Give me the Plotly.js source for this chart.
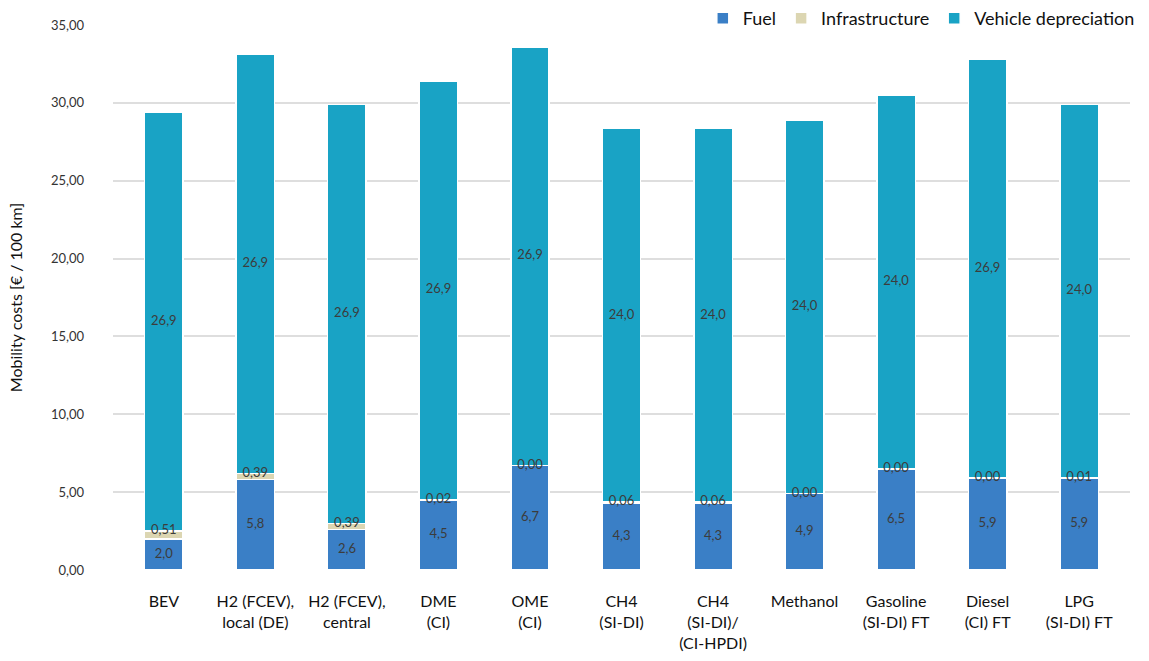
<!DOCTYPE html>
<html>
<head>
<meta charset="utf-8">
<script src="https://cdn.plot.ly/plotly-3.0.1.min.js"></script>
<style>
  html, body { margin: 0; padding: 0; background: #ffffff; }
  #chart { width: 1149px; height: 661px; }
</style>
</head>
<body>
<div id="chart"></div>
<script>
const categories = [
  'BEV',
  'H2 (FCEV),<br>local (DE)',
  'H2 (FCEV),<br>central',
  'DME<br>(CI)',
  'OME<br>(CI)',
  'CH4<br>(SI-DI)',
  'CH4<br>(SI-DI)/<br>(CI-HPDI)',
  'Methanol',
  'Gasoline<br>(SI-DI) FT',
  'Diesel<br>(CI) FT',
  'LPG<br>(SI-DI) FT'
];
const fuel = [2.0, 5.8, 2.6, 4.5, 6.7, 4.3, 4.3, 4.9, 6.5, 5.9, 5.9];
const infrastructure = [0.51, 0.39, 0.39, 0.02, 0.00, 0.06, 0.06, 0.00, 0.00, 0.00, 0.01];
const vehicleDepreciation = [26.9, 26.9, 26.9, 26.9, 26.9, 24.0, 24.0, 24.0, 24.0, 26.9, 24.0];
const yTickValues = [0, 5, 10, 15, 20, 25, 30, 35];

const FONT = 'Lato, "Open Sans", sans-serif';
const fmt = (v, d) => v.toFixed(d).replace('.', ',');

const barLine = { color: '#ffffff', width: 1.5 };
const labelFont = { family: FONT, size: 13, color: '#3c3c3c' };

const traces = [
  {
    type: 'bar', name: 'Fuel', x: categories, y: fuel,
    marker: { color: '#3a7fc6', line: barLine },
    hoverinfo: 'y'
  },
  {
    type: 'bar', name: 'Infrastructure', x: categories, y: infrastructure,
    marker: { color: '#dcd6b2', line: barLine },
    hoverinfo: 'y'
  },
  {
    type: 'bar', name: 'Vehicle depreciation', x: categories, y: vehicleDepreciation,
    marker: { color: '#19a3c5', line: barLine },
    hoverinfo: 'y'
  },
  // value labels
  {
    type: 'scatter', mode: 'text', showlegend: false, hoverinfo: 'skip',
    x: categories,
    y: fuel.map(v => v / 2),
    text: fuel.map(v => fmt(v, 1)),
    textfont: labelFont
  },
  {
    type: 'scatter', mode: 'text', showlegend: false, hoverinfo: 'skip',
    x: categories,
    y: fuel.map((v, i) => v + infrastructure[i]),
    text: infrastructure.map(v => fmt(v, 2)),
    textfont: labelFont
  },
  {
    type: 'scatter', mode: 'text', showlegend: false, hoverinfo: 'skip',
    x: categories,
    y: vehicleDepreciation.map((v, i) => fuel[i] + infrastructure[i] + v / 2),
    text: vehicleDepreciation.map(v => fmt(v, 1)),
    textfont: labelFont
  }
];

const layout = {
  width: 1149, height: 661,
  paper_bgcolor: '#ffffff', plot_bgcolor: '#ffffff',
  margin: { l: 113, r: 19, t: 25, b: 91, autoexpand: false },
  barmode: 'stack',
  bargap: 0.58,
  separators: ',.',
  font: { family: FONT, color: '#222222' },
  xaxis: {
    type: 'category',
    showgrid: false, zeroline: false, showline: false,
    ticks: '',
    ticklabelstandoff: 20,
    automargin: false,
    tickfont: { family: FONT, size: 16, color: '#111111' }
  },
  yaxis: {
    range: [0, 35],
    tickvals: yTickValues,
    tickformat: '.2f',
    showgrid: true, gridcolor: '#dedede', gridwidth: 2,
    zeroline: false, showline: false,
    ticks: '',
    ticklabelstandoff: 28,
    automargin: true,
    tickfont: { family: FONT, size: 13, color: '#333333' },
    title: { text: 'Mobility costs [€ / 100 km]', standoff: 24,
             font: { family: FONT, size: 16, color: '#111111' } }
  },
  legend: {
    orientation: 'h',
    xref: 'container', yref: 'container',
    x: 0.992, xanchor: 'right', y: 1, yanchor: 'top',
    font: { family: FONT, size: 18, color: '#111111' },
    traceorder: 'normal',
    itemwidth: 30
  },
  showlegend: true
};

Plotly.newPlot('chart', traces, layout, { displayModeBar: false, responsive: false });
</script>
</body>
</html>
